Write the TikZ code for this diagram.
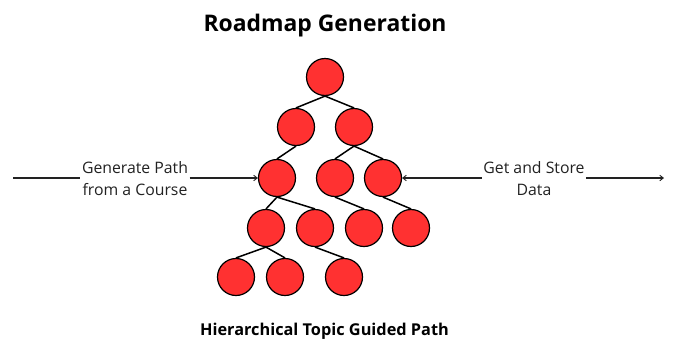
\documentclass[tikz,border=0pt]{standalone}
\usepackage{fontspec}
\setmainfont{Open Sans}
\usetikzlibrary{arrows.meta}
\definecolor{nodered}{HTML}{FF3131}
\definecolor{ink}{HTML}{222222}
\tikzset{
  topic/.style={circle,draw=black,fill=nodered,line width=1.2pt,minimum size=37pt,inner sep=0pt},
  link/.style={draw=black,line width=1.5pt},
  flow/.style={draw=ink,line width=1.1pt},
  tip/.style={-{Straight Barb[length=3.5pt,width=5.5pt,line width=0.9pt]}},
  lab/.style={align=center,inner sep=1.5pt,text=ink,font=\fontsize{15.8}{22}\selectfont},
  head/.style={inner sep=0pt,text=black}
}
\begin{document}
\begin{tikzpicture}[x=1pt,y=-1pt]
\useasboundingbox (0,0) rectangle (673,338);
\fill[white] (0,0) rectangle (673,338);
\node[head,font=\fontsize{22.9}{26}\bfseries\selectfont] (title) at (325,25.5) {Roadmap Generation};
\node[head,font=\fontsize{16.3}{20}\bfseries\selectfont] (caption) at (324.5,331) {Hierarchical Topic Guided Path};
\node[topic] (n1) at (325,77) {};
\node[topic] (n2) at (296,127) {};
\node[topic] (n3) at (354,127) {};
\node[topic] (n4) at (277,178) {};
\node[topic] (n5) at (335,178) {};
\node[topic] (n6) at (383,178) {};
\node[topic] (n7) at (266,228) {};
\node[topic] (n8) at (315,228) {};
\node[topic] (n9) at (364,228) {};
\node[topic] (n10) at (411,228) {};
\node[topic] (n11) at (236,277) {};
\node[topic] (n12) at (285,277) {};
\node[topic] (n13) at (344,277) {};
\foreach \a/\b in {n1/n2,n1/n3,n2/n4,n3/n5,n3/n6,n4/n7,n4/n8,n5/n9,n6/n10,n7/n11,n7/n12,n8/n13}
  \draw[link] (\a.south) -- (\b.north);
\node[lab] (left) at (135,178.5) {Generate Path\\from a Course};
\node[lab] (right) at (534,178.5) {Get and Store\\Data};
\coordinate (lstart) at (13,178);
\coordinate (rend) at (664,178);
\draw[flow] (lstart) -- (left.west |- lstart);
\draw[flow,tip] (left.east |- lstart) -- (n4.west);
\draw[flow,tip] (right.west |- rend) -- (n6.east);
\draw[flow,tip] (right.east |- rend) -- (rend);
\end{tikzpicture}
\end{document}
